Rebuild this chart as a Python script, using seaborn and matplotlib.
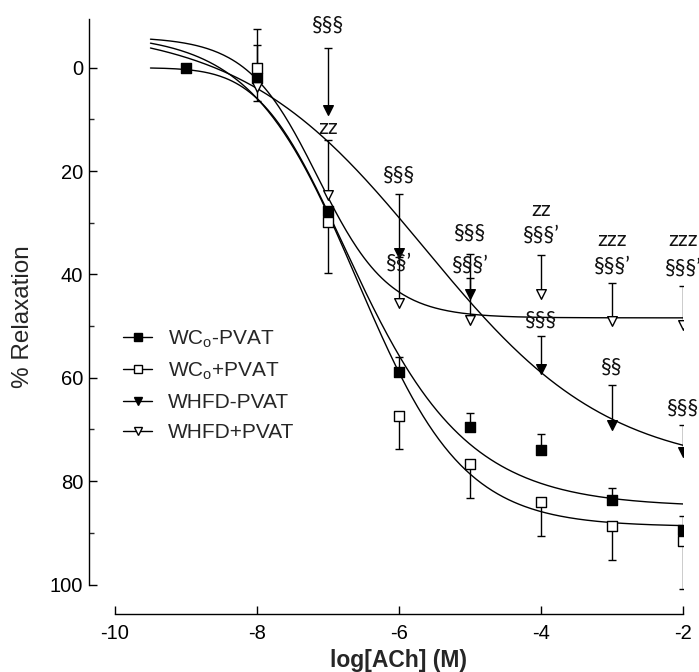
import numpy as np
import pandas as pd
import matplotlib
matplotlib.use("Agg")
import matplotlib.pyplot as plt
from matplotlib.lines import Line2D
from matplotlib.ticker import MultipleLocator
import seaborn as sns

# ---------------- data ----------------
series_names = ["WC$_\\mathregular{o}$-PVAT", "WC$_\\mathregular{o}$+PVAT",
                "WHFD-PVAT", "WHFD+PVAT"]

wc_minus_x = [-9, -8, -7, -6, -5, -4, -3, -2]
wc_minus_y = [0.0, 2.0, 27.8, 58.9, 69.6, 74.0, 83.6, 89.4]
wc_minus_err = [0.0, 6.4, 0.0, 3.0, 2.7, 3.2, 2.3, 2.7]

wc_plus_x = [-8, -7, -6, -5, -4, -3, -2]
wc_plus_y = [0.1, 29.8, 67.3, 76.6, 84.1, 88.6, 91.5]
wc_plus_err = [6.3, 10.0, 6.4, 6.7, 6.5, 6.6, 9.4]

hfd_minus_x = [-8, -7, -6, -5, -4, -3, -2]
hfd_minus_y = [3.0, 8.1, 35.9, 43.7, 58.2, 69.2, 74.4]
hfd_minus_err = [10.4, 12.0, 11.4, 7.7, 6.2, 7.9, 5.2]

hfd_plus_x = [-8, -7, -6, -5, -4, -3, -2]
hfd_plus_y = [3.7, 24.6, 45.6, 48.8, 43.7, 49.0, 49.7]
hfd_plus_err = [0.0, 10.6, 9.0, 8.1, 7.4, 7.3, 7.5]

# error bar direction in data units (-1: toward smaller values, +1: larger)
err_direction = [-1, 1, -1, -1]

# fitted concentration-response curves: top, bottom, logEC50, hill, asymmetry
fit_top = [0.0, -6.67, -8.0, -6.0]
fit_bottom = [85.0, 88.8, 78.0, 48.4]
fit_logec50 = [-8.342, -6.59, -5.635, -7.1425]
fit_hill = [0.45, 0.58, 0.334, 0.87]
fit_asym = [5.0, 1.0, 1.0, 1.0]
fit_range = [-9.5, -2.0]

# significance annotations
ann_x = [-7, -7, -6, -6, -5, -5, -4, -4, -4, -3, -3, -3, -2, -2, -2]
ann_y = [-8.3, 11.6, 20.7, 37.8, 32.0, 38.2, 27.5, 32.3, 48.7,
         33.3, 38.3, 57.8, 33.4, 38.7, 65.8]
ann_text = ["§§§", "zz", "§§§", "§§’", "§§§", "§§§’", "zz", "§§§’", "§§§",
            "zzz", "§§§’", "§§", "zzz", "§§§’", "§§§"]

x_ticks = [-10, -8, -6, -4, -2]
y_ticks = [0, 20, 40, 60, 80, 100]

# ---------------- styling ----------------
sns.set_style("ticks")
plt.rcParams["font.family"] = ["Liberation Sans Narrow", "Liberation Sans", "DejaVu Sans"]
plt.rcParams["axes.unicode_minus"] = False
plt.rcParams["mathtext.fontset"] = "custom"
plt.rcParams["mathtext.rm"] = "Liberation Sans"

markers = ["s", "s", "v", "v"]
faces = ["black", "white", "black", "white"]
msize = [42, 48, 48, 48]

fig = plt.figure(figsize=(6.99, 6.72), dpi=100)
ax = fig.add_axes([0.1269, 0.0863, 0.8502, 0.886])

xs_all = [wc_minus_x, wc_plus_x, hfd_minus_x, hfd_plus_x]
ys_all = [wc_minus_y, wc_plus_y, hfd_minus_y, hfd_plus_y]
es_all = [wc_minus_err, wc_plus_err, hfd_minus_err, hfd_plus_err]

grid = np.linspace(fit_range[0], fit_range[1], 300)
for i, name in enumerate(series_names):
    u = 10.0 ** ((fit_logec50[i] - grid) * fit_hill[i])
    yfit = fit_top[i] + (fit_bottom[i] - fit_top[i]) / (1.0 + u) ** fit_asym[i]
    dfc = pd.DataFrame({"x": grid, "y": yfit})
    sns.lineplot(data=dfc, x="x", y="y", color="black", linewidth=1.0,
                 ax=ax, legend=False, sort=False, zorder=2)

for i, name in enumerate(series_names):
    x = np.array(xs_all[i], dtype=float)
    y = np.array(ys_all[i], dtype=float)
    e = np.array(es_all[i], dtype=float)
    m = e > 0
    zeros = np.zeros(m.sum())
    if err_direction[i] < 0:
        yerr = [e[m], zeros]
        hide = 1
    else:
        yerr = [zeros, e[m]]
        hide = 0
    eb = ax.errorbar(x[m], y[m], yerr=yerr, fmt="none", ecolor="black",
                     elinewidth=1.0, capsize=2.6, capthick=1.0, zorder=2.5)
    if len(eb[1]) == 2:
        eb[1][hide].set_visible(False)
    dfp = pd.DataFrame({"x": x, "y": y})
    sns.scatterplot(data=dfp, x="x", y="y", marker=markers[i], s=msize[i],
                    facecolor=faces[i], edgecolor="black", linewidth=1.0,
                    ax=ax, legend=False, zorder=3)

for tx, ty, tt in zip(ann_x, ann_y, ann_text):
    ax.text(tx, ty, tt, ha="center", va="center", fontsize=15.5,
            family=["Lato", "DejaVu Sans"], color="#111111", clip_on=False,
            zorder=4)

# axes
ax.set_xlim(-10.37, -2.0)
ax.set_ylim(105.7, -9.5)
ax.set_xticks(x_ticks)
ax.set_yticks(y_ticks)
ax.yaxis.set_minor_locator(MultipleLocator(10))
ax.spines["top"].set_visible(False)
ax.spines["right"].set_visible(False)
ax.spines["left"].set_bounds(-9.5, 100)
ax.spines["bottom"].set_bounds(-10, -2)
for s in ["left", "bottom"]:
    ax.spines[s].set_linewidth(1.0)
    ax.spines[s].set_color("black")
ax.tick_params(axis="both", which="major", direction="in", length=6,
               width=1.0, labelsize=14.5, colors="black")
ax.tick_params(axis="y", which="major", pad=4)
ax.tick_params(axis="x", which="major", pad=7)
ax.tick_params(axis="y", which="minor", direction="in", length=3.5, width=1.0)

ax.set_xlabel("log[ACh] (M)", fontsize=16.5, fontweight="bold")
ax.xaxis.set_label_coords(0.522, -0.058)
ax.set_ylabel("% Relaxation", fontsize=17.5, family=["Liberation Sans", "DejaVu Sans"])
ax.yaxis.set_label_coords(-0.092, 0.5)

handles = [Line2D([], [], color="black", lw=1.0, marker=markers[i],
                  markersize=5.5, markerfacecolor=faces[i],
                  markeredgecolor="black", markeredgewidth=1.0)
           for i in range(4)]
ax.legend(handles, series_names, loc="center left",
          bbox_to_anchor=(123 / 699, 1 - 385 / 672),
          bbox_transform=fig.transFigure, frameon=False,
          prop={"family": ["Liberation Sans", "DejaVu Sans"], "size": 15},
          handlelength=1.4, handletextpad=0.75, labelspacing=0.52,
          borderpad=0, borderaxespad=0)

fig.savefig("out.png", dpi=100)
